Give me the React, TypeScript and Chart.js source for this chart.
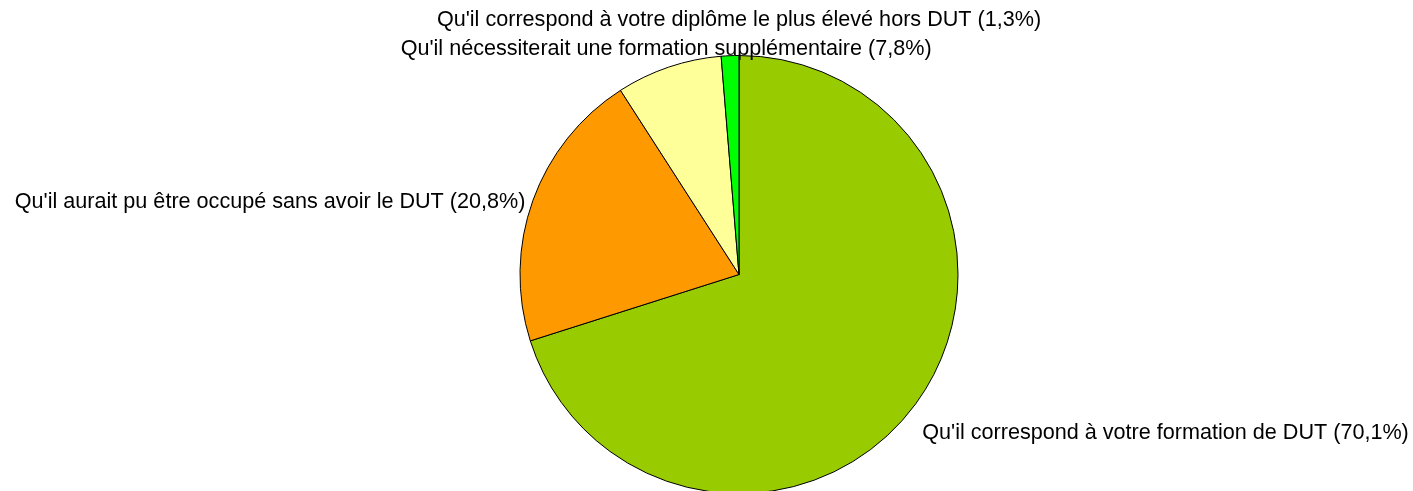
import React, { useEffect, useRef } from "react";
import { Chart, registerables } from "chart.js";

Chart.register(...registerables);

const categories = [
  "Qu'il correspond à votre formation de DUT",
  "Qu'il aurait pu être occupé sans avoir le DUT",
  "Qu'il nécessiterait une formation supplémentaire",
  "Qu'il correspond à votre diplôme le plus élevé hors DUT",
];
const values = [70.1, 20.8, 7.8, 1.3];
const percentLabels = ["70,1%", "20,8%", "7,8%", "1,3%"];
const colors = ["#99CC00", "#FF9900", "#FFFF99", "#00FF00"];

const FONT_SIZE = 21.6;
const FONT = `${FONT_SIZE}px "Liberation Sans", Arial, sans-serif`;

const outsideLabels = {
  id: "outsideLabels",
  afterDraw(chart: any) {
    const ctx = chart.ctx;
    const meta = chart.getDatasetMeta(0);
    ctx.save();
    ctx.font = FONT;
    ctx.fillStyle = "#000000";
    ctx.textBaseline = "alphabetic";
    const placed: { x1: number; x2: number; y1: number; y2: number }[] = [];
    const ascent = FONT_SIZE * 0.72;
    const descent = FONT_SIZE * 0.21;
    const lineH = FONT_SIZE * 1.34;
    meta.data.forEach((arc: any, i: number) => {
      const { x, y, startAngle, endAngle, outerRadius } = arc.getProps(
        ["x", "y", "startAngle", "endAngle", "outerRadius"],
        true
      );
      const mid = (startAngle + endAngle) / 2;
      const c = Math.cos(mid);
      const s = Math.sin(mid);
      const R = outerRadius + 8;
      const ax = x + c * R;
      const ay = y + s * R;
      const text = `${categories[i]} (${percentLabels[i]})`;
      const w = ctx.measureText(text).width;
      let left: number;
      if (c > 0.45) left = ax;
      else if (c < -0.45) left = ax - w;
      else left = ax - w / 2;
      let base: number;
      if (s > 0.45) base = ay + FONT_SIZE * 1.4;
      else if (s < -0.45) base = ay - descent;
      else base = ay + ascent / 2 + 3;
      const up = s < 0;
      let box = { x1: left, x2: left + w, y1: base - ascent - 4, y2: base + descent };
      for (const p of placed) {
        const overlap = box.x1 < p.x2 && box.x2 > p.x1 && box.y1 < p.y2 && box.y2 > p.y1;
        if (overlap) {
          if (up) {
            base = Math.min(base, p.y2 - descent - lineH);
          } else {
            base = Math.max(base, p.y2 - descent + lineH);
          }
          if (Math.abs(c) < 0.45) left = x - w / 2;
          box = { x1: left, x2: left + w, y1: base - ascent - 4, y2: base + descent };
        }
      }
      placed.push(box);
      ctx.textAlign = "left";
      ctx.fillText(text, left, base);
    });
    ctx.restore();
  },
};

export default function App() {
  const ref = useRef<HTMLCanvasElement | null>(null);
  useEffect(() => {
    if (!ref.current) return;
    const chart = new Chart(ref.current, {
      type: "pie",
      data: {
        labels: categories,
        datasets: [
          {
            data: values,
            backgroundColor: colors,
            borderColor: "#000000",
            borderWidth: 1,
            borderAlign: "center",
          },
        ],
      },
      options: {
        responsive: false,
        animation: false,
        layout: { padding: { left: 300, right: 235, top: 55, bottom: 26 } },
        plugins: {
          legend: { display: false },
          tooltip: { enabled: false },
        },
      },
      plugins: [outsideLabels],
    });
    return () => chart.destroy();
  }, []);
  return (
    <div
      style={{
        position: "absolute",
        left: 0,
        top: 0,
        width: 1413,
        height: 491,
        overflow: "hidden",
        background: "#ffffff",
      }}
    >
      <canvas ref={ref} width={1413} height={520} style={{ display: "block" }} />
    </div>
  );
}
